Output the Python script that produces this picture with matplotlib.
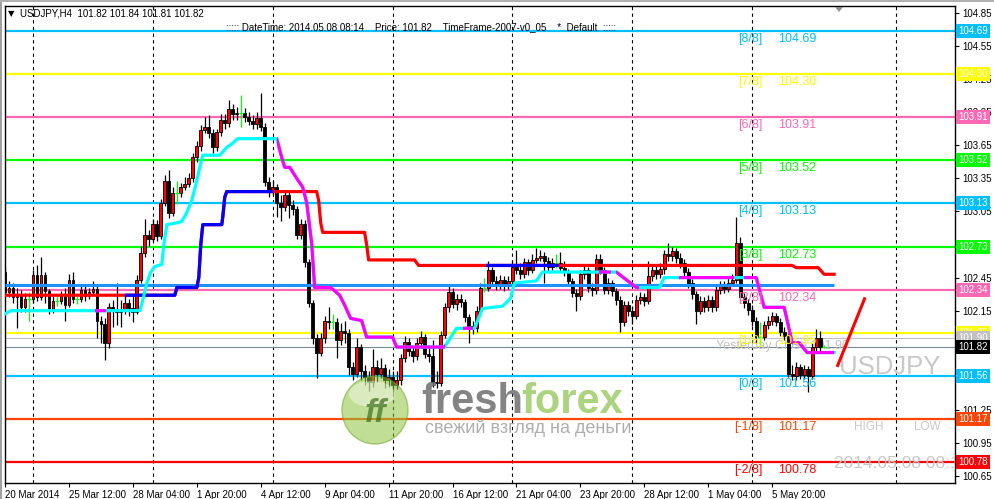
import matplotlib
matplotlib.use("Agg")
import matplotlib.pyplot as plt
import matplotlib.transforms as mtransforms
from matplotlib.patches import Rectangle, Ellipse, Polygon
import numpy as np

plt.rcParams['font.family'] = ['Liberation Sans', 'DejaVu Sans']

# USDJPY H4 candles, 20 Mar - 8 May 2014 (open of each bar = previous close)
first_open = 102.50
closes = [
    102.32, 102.36, 102.27, 102.30, 102.18, 102.26, 102.26, 102.47, 102.27, 102.47,
    102.33, 102.16, 102.24, 102.24, 102.28, 102.20, 102.43, 102.26, 102.26, 102.34,
    102.28, 102.32, 102.35, 102.06, 102.03, 101.86, 102.18, 102.16, 102.14, 102.16,
    102.22, 102.17, 102.14, 102.43, 102.67, 102.84, 102.80, 102.94, 102.83, 103.13,
    103.33, 103.04, 103.22, 103.22, 103.27, 103.30, 103.35, 103.54, 103.64, 103.79,
    103.82, 103.76, 103.63, 103.77, 103.88, 103.85, 103.98, 103.93, 103.94, 103.94,
    103.91, 103.87, 103.84, 103.90, 103.82, 103.32, 103.24, 103.27, 103.13, 103.09,
    103.20, 103.11, 103.07, 102.84, 102.94, 102.59, 102.22, 101.90, 101.77, 101.90,
    102.06, 102.05, 102.05, 101.88, 101.97, 101.95, 101.64, 101.58, 101.82, 101.60,
    101.55, 101.50, 101.64, 101.58, 101.63, 101.52, 101.55, 101.48, 101.52, 101.72,
    101.87, 101.78, 101.74, 101.86, 101.91, 101.76, 101.74, 101.50, 101.49, 101.93,
    102.18, 102.32, 102.21, 102.26, 102.23, 102.09, 102.01, 101.99, 102.15, 102.36,
    102.36, 102.52, 102.42, 102.38, 102.43, 102.38, 102.42, 102.55, 102.52, 102.48,
    102.59, 102.52, 102.61, 102.63, 102.65, 102.60, 102.55, 102.58, 102.58, 102.54,
    102.50, 102.42, 102.31, 102.28, 102.48, 102.52, 102.36, 102.34, 102.62, 102.52,
    102.34, 102.40, 102.33, 102.25, 102.05, 102.20, 102.15, 102.10, 102.25, 102.27,
    102.24, 102.46, 102.52, 102.48, 102.53, 102.66, 102.65, 102.69, 102.63, 102.58,
    102.50, 102.40, 102.30, 102.15, 102.24, 102.18, 102.25, 102.18, 102.34, 102.38,
    102.35, 102.40, 102.43, 102.76, 102.27, 102.22, 102.16, 102.06, 101.91, 101.91,
    102.02, 102.06, 102.10, 102.05, 101.96, 101.92, 101.58, 101.56, 101.64, 101.57,
    101.62, 101.56, 101.82, 101.90, 101.82, 101.82,
]
highs = [
    102.55, 102.42, 102.40, 102.36, 102.34, 102.31, 102.32, 102.52, 102.56, 102.64,
    102.50, 102.35, 102.28, 102.28, 102.33, 102.36, 102.48, 102.50, 102.31, 102.38,
    102.37, 102.36, 102.42, 102.38, 102.10, 102.08, 102.22, 102.25, 102.40, 102.25,
    102.30, 102.26, 102.28, 102.47, 102.74, 102.98, 102.88, 102.98, 102.97, 103.16,
    103.38, 103.43, 103.27, 103.33, 103.31, 103.36, 103.40, 103.58, 103.69, 103.83,
    103.91, 103.92, 103.80, 103.80, 103.93, 103.93, 104.06, 104.02, 104.00, 104.11,
    103.99, 103.95, 103.92, 103.95, 104.12, 103.85, 103.36, 103.33, 103.30, 103.20,
    103.24, 103.23, 103.15, 103.10, 102.98, 102.97, 102.62, 102.25, 101.94, 101.95,
    102.10, 102.18, 102.12, 102.08, 102.04, 102.06, 101.98, 101.68, 101.90, 101.85,
    101.66, 101.60, 101.80, 101.70, 101.72, 101.67, 101.62, 101.60, 101.60, 101.76,
    101.92, 101.90, 101.82, 101.90, 101.97, 101.94, 101.82, 101.88, 101.60, 101.97,
    102.22, 102.37, 102.36, 102.30, 102.30, 102.26, 102.12, 102.06, 102.19, 102.40,
    102.45, 102.60, 102.55, 102.46, 102.47, 102.46, 102.46, 102.60, 102.70, 102.58,
    102.63, 102.62, 102.66, 102.72, 102.70, 102.68, 102.64, 102.63, 102.66, 102.68,
    102.60, 102.53, 102.45, 102.35, 102.52, 102.57, 102.55, 102.40, 102.66, 102.66,
    102.55, 102.45, 102.43, 102.36, 102.28, 102.24, 102.24, 102.19, 102.29, 102.32,
    102.31, 102.60, 102.57, 102.56, 102.58, 102.70, 102.76, 102.73, 102.72, 102.67,
    102.62, 102.54, 102.44, 102.33, 102.28, 102.27, 102.29, 102.28, 102.38, 102.42,
    102.42, 102.45, 102.48, 103.00, 102.82, 102.31, 102.26, 102.20, 102.09, 102.05,
    102.06, 102.10, 102.14, 102.13, 102.08, 102.00, 101.95, 101.66, 101.68, 101.67,
    101.66, 101.65, 101.86, 101.98, 101.97, 101.84,
]
lows = [
    102.28, 102.27, 102.22, 101.99, 102.14, 102.14, 102.06, 102.22, 102.24, 102.25,
    102.22, 102.12, 102.13, 102.19, 102.21, 102.06, 102.18, 102.22, 102.21, 102.23,
    102.24, 102.26, 102.29, 101.90, 101.86, 101.70, 101.81, 102.00, 102.02, 102.00,
    102.12, 102.10, 102.05, 102.12, 102.40, 102.64, 102.74, 102.78, 102.78, 102.80,
    103.10, 102.99, 103.01, 103.12, 103.18, 103.24, 103.27, 103.32, 103.50, 103.60,
    103.76, 103.72, 103.58, 103.60, 103.73, 103.80, 103.82, 103.88, 103.88, 103.82,
    103.86, 103.83, 103.80, 103.80, 103.78, 103.28, 103.18, 103.20, 103.00, 102.96,
    103.05, 102.99, 103.02, 102.80, 102.80, 102.55, 102.18, 101.85, 101.54, 101.74,
    101.86, 101.98, 101.98, 101.72, 101.84, 101.86, 101.57, 101.52, 101.55, 101.52,
    101.48, 101.42, 101.46, 101.50, 101.54, 101.45, 101.46, 101.40, 101.44, 101.48,
    101.68, 101.74, 101.68, 101.70, 101.83, 101.72, 101.68, 101.46, 101.45, 101.47,
    101.90, 102.14, 102.17, 102.16, 102.18, 102.05, 101.86, 101.94, 101.96, 102.12,
    102.32, 102.33, 102.38, 102.34, 102.35, 102.33, 102.35, 102.38, 102.48, 102.44,
    102.45, 102.47, 102.49, 102.58, 102.60, 102.40, 102.50, 102.52, 102.54, 102.50,
    102.46, 102.38, 102.27, 102.15, 102.25, 102.44, 102.32, 102.28, 102.30, 102.48,
    102.30, 102.30, 102.28, 102.20, 101.96, 102.01, 102.10, 102.03, 102.07, 102.21,
    102.19, 102.21, 102.42, 102.44, 102.45, 102.48, 102.60, 102.60, 102.58, 102.54,
    102.45, 102.36, 102.26, 102.03, 102.12, 102.14, 102.15, 102.14, 102.15, 102.30,
    102.31, 102.32, 102.37, 102.40, 102.23, 102.17, 102.11, 102.01, 101.86, 101.84,
    101.88, 101.98, 102.02, 102.01, 101.92, 101.88, 101.55, 101.52, 101.52, 101.53,
    101.53, 101.41, 101.53, 101.78, 101.78, 101.81,
]

x_tick_labels = ["20 Mar 2014", "25 Mar 12:00", "28 Mar 04:00", "1 Apr 20:00",
                 "4 Apr 12:00", "9 Apr 04:00", "11 Apr 20:00", "16 Apr 12:00",
                 "21 Apr 04:00", "23 Apr 20:00", "28 Apr 12:00", "1 May 04:00",
                 "5 May 20:00"]
week_starts = [7, 37, 67, 97, 127, 157, 187, 223]
y_ticks = [104.85, 104.55, 104.25, 103.95, 103.65, 103.35, 103.05,
           102.45, 102.15, 101.25, 100.95, 100.65]

# Murrey math levels
murrey_names = ["[8/8]", "[7/8]", "[6/8]", "[5/8]", "[4/8]", "[3/8]",
                "[2/8]", "[1/8]", "[0/8]", "[-1/8]", "[-2/8]"]
murrey_levels = [104.69, 104.30, 103.91, 103.52, 103.13, 102.73,
                 102.34, 101.95, 101.56, 101.17, 100.78]
murrey_colors = ["#00BFFF", "#FFFF00", "#FF69B4", "#00FF00", "#00BFFF", "#00FF00",
                 "#FF69B4", "#FFFF00", "#00BFFF", "#FF4500", "#FF0000"]

yesterday_close = 101.90
last_price = 101.82
pivot_level = 102.38

# trailing stop (red / blue)
stop1_x = [0, 42.5, 43, 48, 48.5, 49, 49.5, 54.25, 54.5, 55, 55.5, 78, 78.5, 79, 79.5,
           90, 90.5, 91, 102.5, 103.5, 197, 198, 203.5, 205, 207.5]
stop1_y = [102.29, 102.29, 102.36, 102.36, 102.45, 102.75, 102.93, 102.93, 103.00,
           103.18, 103.23, 103.23, 103.15, 102.95, 102.86, 102.86, 102.75, 102.61,
           102.61, 102.56, 102.56, 102.54, 102.54, 102.48, 102.48]
stop1_blue = [(30, 67), (120.5, 138.75)]

# trailing stop (cyan / magenta)
stop2_x = [0, 1.5, 33.75, 34.5, 35.5, 36.5, 37.5, 39.25, 39.75, 40.5,
           43.5, 44.25, 45.5, 46.75, 48, 48.75, 49.5, 53.75, 54.5, 55.5,
           57, 58.25, 68, 69.25, 70, 71.25, 73, 74.5, 75.5, 76.75,
           77.5, 81.5, 83.75, 85, 86.5, 89.25, 90.5, 97, 98, 110,
           113, 117.5, 119.5, 124.5, 126.5, 127.5, 133, 134.5, 153, 158,
           163.75, 165, 188, 190, 195, 197, 198.75, 200.75, 207.5]
stop2_y = [102.12, 102.15, 102.15, 102.25, 102.40, 102.50, 102.55, 102.57, 102.75, 102.93,
           102.95, 102.96, 103.04, 103.15, 103.33, 103.45, 103.56, 103.56, 103.59, 103.63,
           103.67, 103.71, 103.71, 103.54, 103.45, 103.45, 103.35, 103.27, 103.13, 102.76,
           102.36, 102.36, 102.29, 102.20, 102.08, 102.06, 101.91, 101.91, 101.82, 101.82,
           101.99, 101.99, 102.17, 102.19, 102.26, 102.40, 102.42, 102.50, 102.50, 102.36,
           102.36, 102.45, 102.45, 102.18, 102.18, 101.86, 101.86, 101.77, 101.77]
stop2_magenta = [(22.5, 25.25), (68, 110), (114.5, 117), (148.75, 151.75),
                 (153, 158.75), (168.75, 182.5), (185, 207.5)]

arrow_x = [208.25, 215.25]
arrow_y = [101.64, 102.27]

W, H = 995, 499
fig = plt.figure(figsize=(W / 100, H / 100), dpi=100, facecolor='white')
ax = fig.add_axes([5 / W, 16 / H, 950 / W, 477 / H])
ax.set_xlim(0.25, 237.75)
ax.set_ylim(100.587, 104.913)


def px(x, y):
    # pixel position (from top left) -> figure fraction
    return x / W, 1 - y / H


# levels
for lvl, col in zip(murrey_levels, murrey_colors):
    ax.axhline(lvl, color=col, lw=1.6, zorder=1)
ax.axhline(yesterday_close, color='#C0C0C0', lw=0.8, zorder=1)
ax.axhline(last_price, color='#778899', lw=0.8, zorder=1)
for w in week_starts:
    ax.axvline(w, color='black', lw=0.8, ls=(0, (3, 3)), zorder=0.8)

ax.text(178, 101.83, "Yesterday Close 101.90", color='#C0C0C0', fontsize=9,
        va='center', ha='left', zorder=2)

# candles
c = np.array(closes)
o = np.array([first_open] + closes[:-1])
hi = np.array(highs)
lo = np.array(lows)
idx = np.arange(len(c))
up = c > o
dn = c < o
dj = c == o
ax.vlines(idx[~dj], lo[~dj], hi[~dj], color='black', lw=0.9, zorder=3)
ax.bar(idx[up], (c - o)[up], bottom=o[up], width=0.7, color='#FF0000',
       edgecolor='black', lw=0.6, zorder=4)
ax.bar(idx[dn], (o - c)[dn], bottom=c[dn], width=0.7, color='black',
       edgecolor='black', lw=0.6, zorder=4)
ax.vlines(idx[dj], lo[dj], hi[dj], color='#00FF00', lw=0.9, zorder=4)
ax.hlines(c[dj], idx[dj] - 0.45, idx[dj] + 0.45, color='#00FF00', lw=0.9, zorder=4)

# trailing lines
ax.hlines(pivot_level, 0, 207.5, color='#1E90FF', lw=2.2, zorder=5)
ax.plot(stop1_x, stop1_y, color='#FF0000', lw=2.3, zorder=6)
for a, b in stop1_blue:
    ln, = ax.plot(stop1_x, stop1_y, color='#0000FF', lw=2.3, zorder=6.1)
    ln.set_clip_path(Rectangle((a, 100), b - a, 6, transform=ax.transData))
ax.plot(stop2_x, stop2_y, color='#00FFFF', lw=2.3, zorder=6.2)
for a, b in stop2_magenta:
    ln, = ax.plot(stop2_x, stop2_y, color='#FF00FF', lw=2.3, zorder=6.3)
    ln.set_clip_path(Rectangle((a, 100), b - a, 6, transform=ax.transData))
ax.plot(arrow_x, arrow_y, color='#FF0000', lw=2.2, zorder=6, solid_capstyle='butt')

# murrey labels
for name, lvl, col in zip(murrey_names, murrey_levels, murrey_colors):
    ax.annotate(name, (189.5, lvl), xytext=(0, -6.1), textcoords='offset points',
                ha='right', va='center', fontsize=9, color=col, zorder=7)
    ax.annotate(f"{lvl:.2f}", (193.5, lvl), xytext=(0, -6.1), textcoords='offset points',
                ha='left', va='center', fontsize=9, color=col, zorder=7)

# watermark texts
ax.text(208.75, 101.64, "USDJPY", fontsize=18.5, color='#C8C8C8', va='center', ha='left')
ax.text(212.5, 101.094, "HIGH", fontsize=8.5, color='#C8C8C8', va='center', ha='left')
ax.text(227.5, 101.094, "LOW", fontsize=8.5, color='#C8C8C8', va='center', ha='left')
ax.text(207.5, 100.76, "2014.05.08 08:14", fontsize=12.5, color='#C8C8C8',
        va='center', ha='left', clip_on=True)

# axes styling
for s in ax.spines.values():
    s.set_color('black')
    s.set_linewidth(1)
ax.yaxis.tick_right()
ax.set_yticks(y_ticks)
ax.set_yticklabels([f"{v:.2f}" for v in y_ticks])
ax.set_xticks(np.arange(0, 16 * len(x_tick_labels), 16))
ax.set_xticklabels(x_tick_labels, ha='left')
ax.tick_params(axis='y', direction='out', length=3, width=0.8, pad=2, labelsize=7)
ax.tick_params(axis='x', direction='out', length=3, width=0.8, pad=2, labelsize=7)

# price boxes on the right axis
blend = mtransforms.blended_transform_factory(ax.transAxes, ax.transData)
box_levels = murrey_levels + [yesterday_close, last_price]
box_colors = murrey_colors + ['#C0C0C0', '#000000']
for lvl, col in zip(box_levels, box_colors):
    ax.text(1.0035, lvl, f"{lvl:.2f}", transform=blend, fontsize=7, color='white',
            va='center', ha='left', clip_on=False, zorder=10,
            bbox=dict(boxstyle='square,pad=0.2', fc=col, ec='none'))

# header texts
fig.text(*px(8, 14), "\u25bc", fontsize=6, va='center', ha='left',
         family=['DejaVu Sans'])
fig.text(*px(20, 14), "USDJPY,H4  101.82 101.84 101.81 101.82", fontsize=7,
         va='center', ha='left')
fig.text(*px(226, 27), "::::: DateTime: 2014.05.08 08:14    Price: 101.82    "
         "TimeFrame-2007-v0_05    *  Default  :::::", fontsize=7, va='center', ha='left')
fig.add_artist(Polygon([px(835, 7), px(843, 7), px(839, 12)], closed=True,
                       transform=fig.transFigure, fc='#909090', ec='none'))

# window border
fig.add_artist(Rectangle((0, 0), 2.5 / W, 1, transform=fig.transFigure,
                         fc='#A0A0A0', ec='none'))
fig.add_artist(Rectangle((0, 1 - 2 / H), 1, 2 / H, transform=fig.transFigure,
                         fc='#B0B0B0', ec='none'))

# freshforex logo
fig.add_artist(Ellipse(px(375, 410), 66 / W, 68 / H, transform=fig.transFigure,
                       fc='#8DC63F', ec='#6DA32A', lw=1, alpha=0.55))
fig.add_artist(Ellipse(px(372, 394), 46 / W, 26 / H, transform=fig.transFigure,
                       fc='white', ec='none', alpha=0.4))
fig.text(*px(376, 414), "ff", fontsize=24, fontweight='bold', style='italic',
         color='#3E6E1C', alpha=0.7, ha='center', va='center')
fig.text(*px(421, 413), "fresh", fontsize=30, fontweight='bold', color='#6E6E6E',
         alpha=0.85, ha='left', va='baseline')
fig.text(*px(521, 413), "forex", fontsize=30, fontweight='bold', color='#9DCC6A',
         alpha=0.85, ha='left', va='baseline')
fig.text(*px(425, 428), "свежий взгляд на деньги", fontsize=13, color='#A5A5A5',
         alpha=0.9, ha='left', va='center')

fig.savefig('out.png', dpi=100, facecolor='white')
